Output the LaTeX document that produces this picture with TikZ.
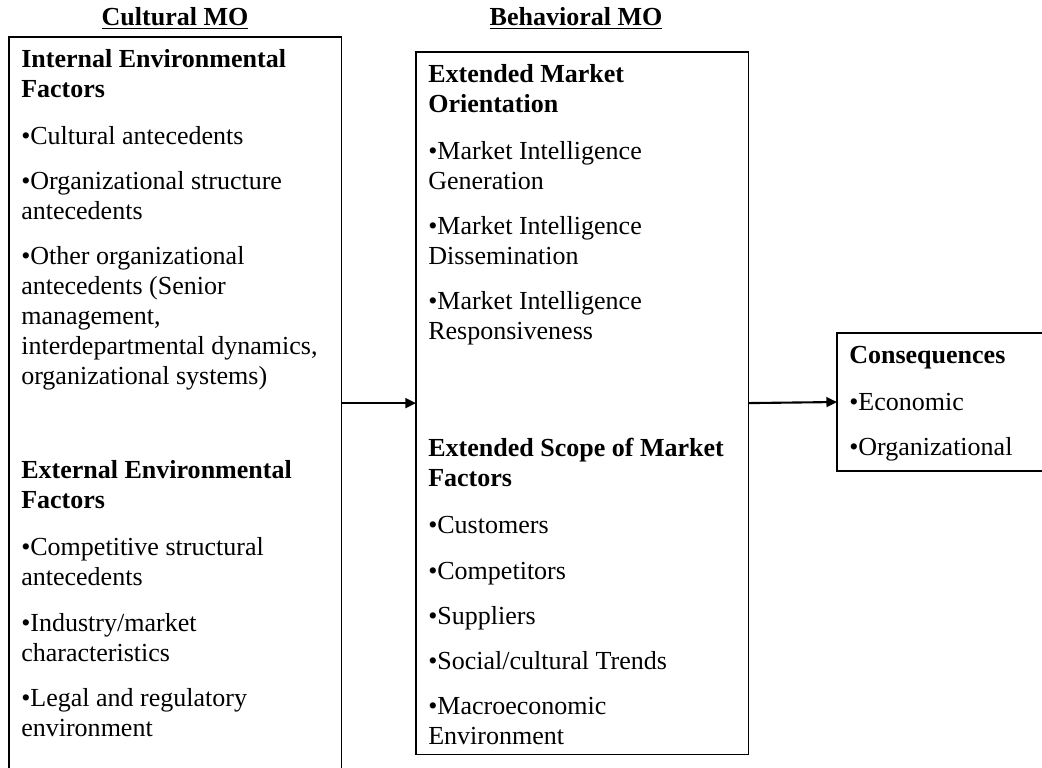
\documentclass[tikz,border=0pt]{standalone}
\usepackage{fontspec}
\setmainfont{Liberation Serif}
\usetikzlibrary{arrows.meta}

\begin{document}
\begin{tikzpicture}[x=0.025cm,y=-0.025cm,
    box/.style={draw,line width=0.8pt,inner sep=0pt,outer sep=0pt,anchor=north west},
    txt/.style={anchor=north west,align=left,inner sep=0pt,font=\fontsize{18.5}{21.34}\selectfont},
    head/.style={anchor=base,inner sep=0pt,font=\fontsize{18.5}{21.34}\selectfont\bfseries},
    arr/.style={line width=1.5pt,-{Triangle[length=7.5pt,width=7pt]}}]
  \useasboundingbox (0,0) rectangle (1042,768);
  % the three boxes
  \node[box,minimum width=8.3cm,minimum height=19.6cm] (cult) at (9,37) {};
  \node[box,minimum width=8.3cm,minimum height=17.55cm] (behav) at (416,52) {};
  \node[box,minimum width=5.2cm,minimum height=3.45cm] (cons) at (837,333) {};
  % titles
  \node[head] (culthd) at (175,26) {\underline{Cultural MO}};
  \node[head] (behavhd) at (576,26) {\underline{Behavioral MO}};
  % box texts
  \node[txt] (culttxt) at (21,49.4) {\textbf{Internal Environmental}\\
      \textbf{Factors}\\[12.1pt]
      •Cultural antecedents\\[10.7pt]
      •Organizational structure\\ antecedents\\[10.7pt]
      •Other organizational\\ antecedents (Senior\\ management,\\
      interdepartmental dynamics,\\ organizational systems)\\[45.5pt]
      \textbf{External Environmental}\\ \textbf{Factors}\\[12.1pt]
      •Competitive structural\\ antecedents\\[10.7pt]
      •Industry/market\\ characteristics\\[10.7pt]
      •Legal and regulatory\\ environment};
  \node[txt] (behavtxt) at (428,64.4) {\textbf{Extended Market}\\
      \textbf{Orientation}\\[12.1pt]
      •Market Intelligence\\ Generation\\[10.7pt]
      •Market Intelligence\\ Dissemination\\[10.7pt]
      •Market Intelligence\\ Responsiveness\\[61.9pt]
      \textbf{Extended Scope of Market}\\ \textbf{Factors}\\[12.1pt]
      •Customers\\[10.7pt]
      •Competitors\\[10.7pt]
      •Suppliers\\[10.7pt]
      •Social/cultural Trends\\[10.7pt]
      •Macroeconomic\\ Environment};
  \node[txt] (constxt) at (849,346.4) {\textbf{Consequences}\\[12.1pt]
      •Economic\\[10.7pt]
      •Organizational};
  % arrows
  \draw[arr] (cult.east |- behav.west) -- (behav.west);
  \draw[arr] (behav.east) -- (cons.west);
\end{tikzpicture}
\end{document}
